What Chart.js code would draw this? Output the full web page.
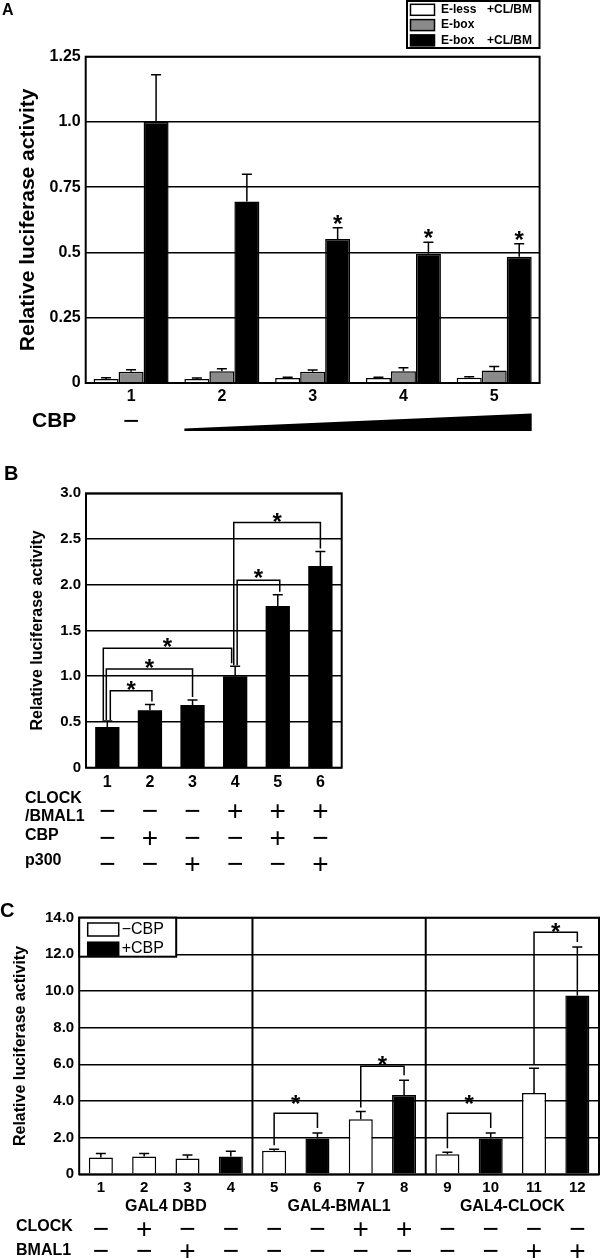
<!DOCTYPE html>
<html>
<head>
<meta charset="utf-8">
<script src="https://cdn.jsdelivr.net/npm/chart.js@4.4.0/dist/chart.umd.min.js"></script>
<style>
  body { margin: 0; background: #fff; }
  #wrap { position: relative; width: 600px; height: 1258px; overflow: hidden; }
  canvas { position: absolute; left: 0; }
</style>
</head>
<body>
<div id="wrap">
  <canvas id="chartA" width="600" height="440" style="top:0"></canvas>
  <canvas id="chartB" width="600" height="420" style="top:455px"></canvas>
  <canvas id="chartC" width="600" height="378" style="top:880px"></canvas>
</div>
<script>
// ================== Data ==================
// Panel A
const categoriesA = ["1", "2", "3", "4", "5"];
const eLessA = [0.015, 0.015, 0.019, 0.019, 0.02];
const eLessErrA = [0.005, 0.004, 0.003, 0.003, 0.004];
const eBoxA = [0.043, 0.045, 0.043, 0.045, 0.048];
const eBoxErrA = [0.008, 0.01, 0.007, 0.013, 0.015];
const eBoxClbmA = [1.0, 0.695, 0.552, 0.495, 0.484];
const eBoxClbmErrA = [0.181, 0.105, 0.043, 0.044, 0.049];
const sigA = [false, false, true, true, true];
const yTicksA = ["0", "0.25", "0.5", "0.75", "1.0", "1.25"];

// Panel B
const categoriesB = ["1", "2", "3", "4", "5", "6"];
const valuesB = [0.445, 0.627, 0.685, 1.0, 1.767, 2.204];
const errB = [0.065, 0.063, 0.055, 0.11, 0.123, 0.161];
const bracketsB = [[0, 1, 0.84], [0, 2, 1.08], [0, 3, 1.305], [3, 4, 2.05], [3, 5, 2.68]];
const yTicksB = ["0", "0.5", "1.0", "1.5", "2.0", "2.5", "3.0"];
const clockBmalB = ["−", "−", "−", "+", "+", "+"];
const cbpB = ["−", "+", "−", "−", "+", "−"];
const p300B = ["−", "−", "+", "−", "−", "+"];

// Panel C
const categoriesC = ["1", "2", "3", "4", "5", "6", "7", "8", "9", "10", "11", "12"];
const minusCbpC = [0.91, 0.97, 0.86, null, 1.29, null, 3.0, null, 1.1, null, 4.44, null];
const minusCbpErrC = [0.23, 0.17, 0.19, null, 0.08, null, 0.42, null, 0.1, null, 1.34, null];
const plusCbpC = [null, null, null, 0.97, null, 1.96, null, 4.32, null, 1.96, null, 9.75];
const plusCbpErrC = [null, null, null, 0.29, null, 0.3, null, 0.81, null, 0.3, null, 2.65];
const bracketsC = [[4, 5, 3.33], [6, 7, 5.9], [8, 9, 3.33], [10, 11, 13.2]];
const groupsC = ["GAL4 DBD", "GAL4-BMAL1", "GAL4-CLOCK"];
const clockC = ["−", "+", "−", "−", "−", "−", "+", "+", "−", "−", "−", "−"];
const bmal1C = ["−", "−", "+", "−", "−", "−", "−", "−", "−", "−", "+", "+"];
const yTicksC = ["0", "2.0", "4.0", "6.0", "8.0", "10.0", "12.0", "14.0"];

// ================== Helpers ==================
const FONT = "'Liberation Sans', Arial, Helvetica, sans-serif";
Chart.defaults.font.family = FONT;
Chart.defaults.color = "#000";
Chart.defaults.animation = false;

function fixWidth(w) { return (scale) => { scale.width = w; }; }
function fixHeight(h) { return (scale) => { scale.height = h; }; }

function drawBox(chart) {
    const { ctx, chartArea: a } = chart;
    ctx.save();
    ctx.strokeStyle = "#000";
    ctx.lineWidth = 2;
    ctx.strokeRect(a.left, a.top, a.right - a.left, a.bottom - a.top);
    ctx.restore();
}

function errTop(chart, di, i) {
    const ds = chart.data.datasets[di];
    if (ds.data[i] == null) return null;
    return chart.scales.y.getPixelForValue(ds.data[i] + ds.errors[i]);
}

// upward error bars with a cap
function drawErrors(chart, capHalf) {
    const ctx = chart.ctx;
    ctx.save();
    ctx.strokeStyle = "#000";
    ctx.lineWidth = 1.5;
    chart.data.datasets.forEach((ds, di) => {
        chart.getDatasetMeta(di).data.forEach((bar, i) => {
            const top = errTop(chart, di, i);
            if (top == null) return;
            ctx.beginPath();
            ctx.moveTo(bar.x, bar.y);
            ctx.lineTo(bar.x, top);
            ctx.moveTo(bar.x - capHalf, top);
            ctx.lineTo(bar.x + capHalf, top);
            ctx.stroke();
        });
    });
    ctx.restore();
}

function drawStar(ctx, x, cy) {
    ctx.save();
    ctx.font = "bold 24px " + FONT;
    ctx.textAlign = "center";
    ctx.textBaseline = "alphabetic";
    ctx.fillStyle = "#000";
    ctx.fillText("*", x, cy + 14);
    ctx.restore();
}

function barInfo(chart, i) {
    for (let di = 0; di < chart.data.datasets.length; di++) {
        if (chart.data.datasets[di].data[i] != null) {
            return { x: chart.getDatasetMeta(di).data[i].x, top: errTop(chart, di, i) };
        }
    }
}

// significance brackets: [from, to, level]
function drawBrackets(chart, list, offs, gap, lifts) {
    const ctx = chart.ctx;
    const y = chart.scales.y;
    ctx.save();
    ctx.strokeStyle = "#000";
    ctx.lineWidth = 1.5;
    list.forEach(([a, b, level], k) => {
        const A = barInfo(chart, a);
        const B = barInfo(chart, b);
        const xa = A.x + offs[k][0];
        const xb = B.x + offs[k][1];
        const yl = y.getPixelForValue(level);
        ctx.beginPath();
        ctx.moveTo(xa, A.top - gap[0]);
        ctx.lineTo(xa, yl);
        ctx.lineTo(xb, yl);
        ctx.lineTo(xb, B.top - gap[1]);
        ctx.stroke();
        drawStar(ctx, (xa + xb) / 2, yl - lifts[k]);
    });
    ctx.restore();
}

function drawText(ctx, text, x, y, font, align) {
    ctx.save();
    ctx.font = font;
    ctx.fillStyle = "#000";
    ctx.textAlign = align || "left";
    ctx.textBaseline = "middle";
    ctx.fillText(text, x, y);
    ctx.restore();
}

// +/− rows under the x axis
function drawSigns(chart, signs, cy) {
    const ctx = chart.ctx;
    const xs = chart.scales.x;
    ctx.save();
    ctx.font = "28px " + FONT;
    ctx.fillStyle = "#000";
    ctx.textAlign = "center";
    ctx.textBaseline = "alphabetic";
    signs.forEach((s, i) => ctx.fillText(s, xs.getPixelForTick(i), cy + 10));
    ctx.restore();
}

function yAxis(max, step, labels, width, titleSize, titlePad, tickSize) {
    return {
        min: 0,
        max: max,
        afterFit: fixWidth(width),
        grid: { color: "#000", lineWidth: 1.5, drawTicks: false },
        border: { display: false },
        ticks: {
            stepSize: step,
            padding: 5,
            font: { size: tickSize, weight: "bold" },
            callback: (v, i) => labels[i],
        },
        title: {
            display: true,
            text: "Relative luciferase activity",
            font: { size: titleSize, weight: "bold" },
            padding: { top: titlePad, bottom: 0 },
        },
    };
}

function xAxis(tickSize, pad) {
    return {
        afterFit: fixHeight(40),
        grid: { display: false, drawTicks: false },
        border: { display: false },
        ticks: { padding: pad, maxRotation: 0, autoSkip: false, font: { size: tickSize, weight: "bold" } },
    };
}

const basePlugins = { legend: { display: false }, tooltip: { enabled: false } };

// ================== Panel A ==================
new Chart(document.getElementById("chartA"), {
    type: "bar",
    data: {
        labels: categoriesA,
        datasets: [
            { label: "E-less +CL/BM", data: eLessA, errors: eLessErrA, backgroundColor: "#ffffff" },
            { label: "E-box", data: eBoxA, errors: eBoxErrA, backgroundColor: "#8a8a8a" },
            { label: "E-box +CL/BM", data: eBoxClbmA, errors: eBoxClbmErrA, backgroundColor: "#000000" },
        ],
    },
    options: {
        responsive: false,
        layout: { padding: { top: 56.7, left: 0, right: 60.4, bottom: 17 } },
        datasets: { bar: { borderColor: "#000", borderWidth: 1.5, categoryPercentage: 0.826, barPercentage: 1 } },
        plugins: basePlugins,
        scales: { x: xAxis(16, 3.5), y: yAxis(1.25, 0.25, yTicksA, 85.7, 21, 16, 16) },
    },
    plugins: [{
        id: "panelA",
        afterDatasetsDraw(chart) {
            drawErrors(chart, 5);
            const meta = chart.getDatasetMeta(2);
            sigA.forEach((s, i) => {
                if (s) drawStar(chart.ctx, meta.data[i].x, errTop(chart, 2, i) - 10);
            });
        },
        afterDraw(chart) {
            const ctx = chart.ctx;
            drawBox(chart);
            drawText(ctx, "A", 2, 11, "bold 16px " + FONT);

            // legend box
            ctx.save();
            ctx.fillStyle = "#fff";
            ctx.strokeStyle = "#000";
            ctx.lineWidth = 2;
            ctx.fillRect(407, 1, 132.5, 47);
            ctx.strokeRect(407, 1, 132.5, 47);
            chart.data.datasets.forEach((ds, i) => {
                const cy = 9.8 + i * 15.3;
                ctx.fillStyle = ds.backgroundColor;
                ctx.fillRect(410.5, cy - 5.5, 24, 11);
                ctx.lineWidth = 1.5;
                ctx.strokeRect(410.5, cy - 5.5, 24, 11);
                const [main, extra] = ds.label.split(" +");
                drawText(ctx, main, 441, cy, "bold 12px " + FONT);
                if (extra) drawText(ctx, "+" + extra, 487, cy, "bold 12px " + FONT);
            });
            ctx.restore();

            // CBP row: dash for lane 1, wedge for lanes 2-5
            drawText(ctx, "CBP", 32, 421, "bold 21px " + FONT);
            const xs = chart.scales.x;
            ctx.save();
            ctx.font = "28px " + FONT;
            ctx.textAlign = "center";
            ctx.fillStyle = "#000";
            ctx.fillText("−", xs.getPixelForTick(0), 430);
            const start = chart.getDatasetMeta(0).data[1];
            const end = chart.getDatasetMeta(2).data[4];
            const x0 = start.x - start.width / 2;
            const x1 = end.x + end.width / 2;
            ctx.beginPath();
            ctx.moveTo(x0, 431);
            ctx.lineTo(x1, 431);
            ctx.lineTo(x1, 413.5);
            ctx.lineTo(x0, 428.5);
            ctx.closePath();
            ctx.fill();
            ctx.restore();
        },
    }],
});

// ================== Panel B ==================
new Chart(document.getElementById("chartB"), {
    type: "bar",
    data: {
        labels: categoriesB,
        datasets: [{ label: "Relative luciferase activity", data: valuesB, errors: errB, backgroundColor: "#000" }],
    },
    options: {
        responsive: false,
        layout: { padding: { top: 38.3, left: 0, right: 258.3, bottom: 67.3 } },
        datasets: { bar: { borderColor: "#000", borderWidth: 0, categoryPercentage: 1, barPercentage: 0.57 } },
        plugins: basePlugins,
        scales: { x: xAxis(16, 5.4), y: yAxis(3, 0.5, yTicksB, 86, 16, 28, 15) },
    },
    plugins: [{
        id: "panelB",
        afterDatasetsDraw(chart) {
            drawErrors(chart, 5);
            drawBrackets(chart, bracketsB,
                [[3, 2], [-1, 0], [-4, -3.5], [2, 2], [-1.4, 0]],
                [1, 3], [7, 7, 7, 8, 7]);
        },
        afterDraw(chart) {
            const ctx = chart.ctx;
            drawBox(chart);
            drawText(ctx, "B", 4, 19, "bold 20px " + FONT);
            const f = "bold 16px " + FONT;
            drawText(ctx, "CLOCK", 25, 344, f);
            drawText(ctx, "/BMAL1", 25, 361.5, f);
            drawText(ctx, "CBP", 25, 381, f);
            drawText(ctx, "p300", 25, 406, f);
            drawSigns(chart, clockBmalB, 354.5);
            drawSigns(chart, cbpB, 381.5);
            drawSigns(chart, p300B, 408);
        },
    }],
});

// ================== Panel C ==================
new Chart(document.getElementById("chartC"), {
    type: "bar",
    data: {
        labels: categoriesC,
        datasets: [
            { label: "−CBP", data: minusCbpC, errors: minusCbpErrC, backgroundColor: "#ffffff" },
            { label: "+CBP", data: plusCbpC, errors: plusCbpErrC, backgroundColor: "#000000" },
        ],
    },
    options: {
        responsive: false,
        layout: { padding: { top: 37.7, left: 0, right: 1, bottom: 43.7 } },
        datasets: {
            bar: { borderColor: "#000", borderWidth: 1.5, skipNull: true, categoryPercentage: 1, barPercentage: 0.555 },
        },
        plugins: basePlugins,
        scales: { x: xAxis(15, 5), y: yAxis(14, 2, yTicksC, 79.2, 16, 11.4, 15) },
    },
    plugins: [{
        id: "panelC",
        afterDatasetsDraw(chart) {
            drawErrors(chart, 5);
            drawBrackets(chart, bracketsC, [[0, 0], [0, 0], [0, 0], [0, 0]], [4, 5], [15, 7, 15, 6]);
        },
        afterDraw(chart) {
            const ctx = chart.ctx;
            const a = chart.chartArea;
            const xs = chart.scales.x;
            drawBox(chart);

            // group separators
            ctx.save();
            ctx.strokeStyle = "#000";
            ctx.lineWidth = 2;
            [4, 8].forEach((i) => {
                const x = (xs.getPixelForTick(i - 1) + xs.getPixelForTick(i)) / 2;
                ctx.beginPath();
                ctx.moveTo(x, a.top);
                ctx.lineTo(x, a.bottom);
                ctx.stroke();
            });

            // legend box in the corner
            ctx.fillStyle = "#fff";
            ctx.fillRect(a.left, a.top, 97, 39);
            ctx.strokeRect(a.left, a.top, 97, 39);
            chart.data.datasets.forEach((ds, i) => {
                const cy = a.top + 11.8 + i * 19.2;
                ctx.fillStyle = ds.backgroundColor;
                ctx.fillRect(a.left + 8.5, cy - 6.5, 31, 13);
                ctx.lineWidth = 1.5;
                ctx.strokeRect(a.left + 8.5, cy - 6.5, 31, 13);
                drawText(ctx, ds.label, a.left + 42.5, cy, "16px " + FONT);
            });
            ctx.restore();

            drawText(ctx, "C", 0, 31, "bold 20px " + FONT);
            groupsC.forEach((g, k) => {
                const x = (xs.getPixelForTick(k * 4) + xs.getPixelForTick(k * 4 + 3)) / 2;
                drawText(ctx, g, x, 327, "bold 16px " + FONT, "center");
            });
            const f = "bold 16px " + FONT;
            drawText(ctx, "CLOCK", 16, 347, f);
            drawText(ctx, "BMAL1", 16, 371, f);
            drawSigns(chart, clockC, 348);
            drawSigns(chart, bmal1C, 369.5);
        },
    }],
});
</script>
</body>
</html>
